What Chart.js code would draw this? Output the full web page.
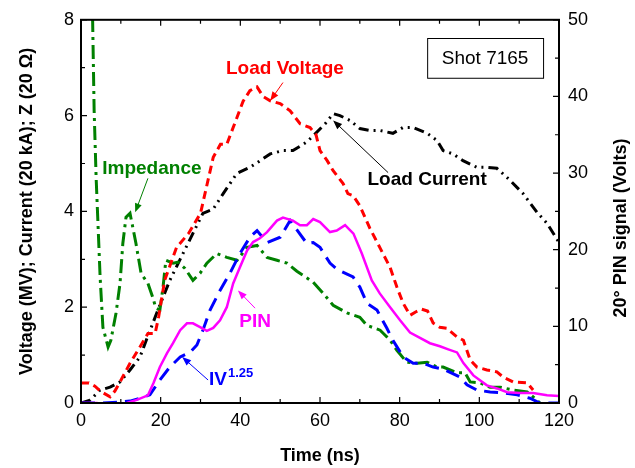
<!DOCTYPE html>
<html>
<head>
<meta charset="utf-8">
<script src="https://cdn.jsdelivr.net/npm/chart.js@4.4.0/dist/chart.umd.min.js"></script>
<style>
  html, body { margin: 0; padding: 0; background: #fff; }
</style>
</head>
<body>
<canvas id="c" width="635" height="468"></canvas>
<script>
// Shot 7165 waveforms
const xTicks = [0, 20, 40, 60, 80, 100, 120];
const yTicks = [0, 2, 4, 6, 8];
const y2Ticks = [0, 10, 20, 30, 40, 50];

const voltT = [0, 2, 3.5, 4.8, 7.3, 8.5, 9.8, 12.3, 14.8, 16.8, 18.6, 19.5, 21, 24, 27, 30, 33.2, 35, 36.6, 38.2, 40.7, 42.4, 44.2, 45.7, 47.5, 50, 52.5, 55, 57.5, 59, 60, 61.8, 63.3, 65.8, 67, 68.3, 70, 72.5, 75, 77.6, 79.3, 80.9, 82.6, 84, 85.5, 87, 88.4, 90.1, 91.8, 94.4, 96, 97.7, 99.4, 101.9, 104.4, 106, 108.5, 112, 113.5];
const voltV = [0.42, 0.42, 0.35, 0.25, 0.13, 0.25, 0.44, 0.83, 1.17, 1.45, 1.45, 1.8, 2.56, 3.25, 3.54, 3.96, 5.13, 5.4, 5.4, 5.75, 6.3, 6.52, 6.6, 6.4, 6.31, 6.25, 6.1, 5.83, 5.75, 5.6, 5.27, 5.06, 4.85, 4.58, 4.37, 4.33, 4.12, 3.65, 3.25, 2.83, 2.42, 2.08, 1.83, 1.9, 1.96, 1.92, 1.67, 1.58, 1.56, 1.38, 1.31, 0.9, 0.75, 0.69, 0.65, 0.54, 0.44, 0.42, 0.27];

const currT = [0, 2.3, 4.8, 7.3, 9.8, 12.3, 14.8, 16.8, 19.3, 20.6, 22.3, 25.6, 28.1, 30.6, 33.2, 35.7, 39.1, 42.4, 45, 47.5, 50.7, 53.2, 56.7, 58.3, 61.3, 63.3, 65, 67.5, 70, 72.6, 75, 78.3, 80.8, 83.4, 86.9, 89.4, 90.9, 93.4, 95.9, 99.4, 101.9, 104.4, 107.7, 111, 114.5, 117, 120];
const currV = [0, 0.06, 0.27, 0.33, 0.44, 0.69, 0.96, 1.4, 1.94, 2.21, 2.56, 3.12, 3.54, 3.96, 4.05, 4.37, 4.79, 4.92, 5.06, 5.2, 5.27, 5.27, 5.45, 5.58, 5.83, 6.04, 6.0, 5.9, 5.73, 5.69, 5.69, 5.63, 5.75, 5.75, 5.63, 5.48, 5.27, 5.2, 5.06, 4.92, 4.92, 4.9, 4.65, 4.37, 3.98, 3.75, 3.35];

const impT = [2.8, 3.3, 3.8, 4.8, 5.5, 6.8, 7.5, 8.8, 9.8, 10.5, 11.3, 12.3, 13, 13.8, 15.1, 16.8, 18, 18.8, 19.8, 20.6, 21.3, 23.1, 24.4, 26.1, 28.1, 29.9, 31.6, 34.1, 36.6, 39.2, 41.7, 44.2, 46.7, 49.2, 51.7, 54.2, 55.7, 58.3, 60.8, 63.3, 66.8, 70, 71.8, 75.1, 77.6, 79.3, 81.8, 84.4, 86.9, 89.4, 90.9, 94.4, 96.4, 97.7, 100.2, 102.7, 105.2, 108.5, 112, 113.5, 115.2];
const impV = [8.6, 6.1, 4.7, 2.63, 1.58, 1.17, 1.31, 1.88, 2.5, 3.33, 3.88, 3.96, 3.67, 3.33, 2.7, 2.5, 2.21, 1.98, 1.94, 2.42, 2.98, 2.92, 2.94, 2.81, 2.56, 2.71, 2.92, 3.12, 3.04, 2.98, 3.25, 3.29, 3.04, 2.98, 2.92, 2.75, 2.67, 2.52, 2.29, 2.04, 1.88, 1.79, 1.62, 1.52, 1.31, 1.1, 0.85, 0.83, 0.85, 0.75, 0.75, 0.63, 0.63, 0.44, 0.42, 0.33, 0.33, 0.27, 0.23, 0.13, 0];

const ivT = [0, 5, 9.8, 12.3, 14.8, 17.3, 19.8, 22.3, 24.9, 27.4, 29.1, 30.6, 32.4, 34.9, 37.4, 39.9, 42.4, 44.2, 46.7, 50, 52.5, 53.7, 56.7, 58.3, 60, 62.5, 64.3, 68.3, 70, 71.8, 74.3, 76.8, 78.3, 80.9, 83.4, 85.9, 88.4, 90.9, 95.2, 96.9, 99.4, 102.7, 106, 109.5, 112.7, 115.2, 120];
const ivV = [0, 0, 0.02, 0.04, 0.1, 0.17, 0.48, 0.75, 0.96, 1.06, 1.21, 1.52, 1.94, 2.35, 2.71, 3.12, 3.46, 3.6, 3.35, 3.46, 3.81, 3.67, 3.33, 3.35, 3.25, 2.92, 2.79, 2.63, 2.42, 2.08, 1.94, 1.56, 1.31, 0.96, 0.83, 0.83, 0.75, 0.71, 0.54, 0.38, 0.27, 0.23, 0.21, 0.17, 0.1, 0, 0];

// PIN signal in volts (right axis)
const pinT = [0, 4, 6, 11.5, 14, 16.8, 18.2, 19.8, 21.6, 23.1, 24.9, 26.6, 28.1, 29.9, 31.6, 33.2, 34.9, 36.6, 38.2, 39.9, 41.7, 43.2, 44.9, 46.7, 49.2, 50.7, 53.2, 55, 56.7, 58.3, 60, 62.5, 64.2, 66.3, 68.4, 70.5, 73, 75, 77.6, 80.1, 82.6, 85.1, 87.6, 90.1, 92.2, 94.4, 96, 98.5, 101.9, 104.4, 107, 110.2, 113.5, 117, 120];
const pinV = [0, 0, -0.2, 0, 0.4, 1.0, 2.6, 4.7, 6.5, 7.8, 9.5, 10.4, 10.4, 9.9, 9.4, 9.8, 10.8, 12.5, 15.6, 17.7, 19.9, 21, 21.5, 22.3, 23.8, 24.2, 23.8, 23.2, 23.2, 24.0, 23.6, 22.3, 22.5, 23.2, 22.1, 19.5, 16, 14.3, 12.5, 10.8, 9.2, 8.5, 7.8, 7.4, 7.0, 6.6, 5.2, 3.6, 2.3, 1.9, 1.4, 1.3, 1.3, 1.0, 0.9];

const pts = (ts, vs) => ts.map((t, i) => ({ x: t, y: vs[i] }));

const FONT = '"Liberation Sans", Arial, sans-serif';

// labels and arrows, positioned in (ns, left-axis) units
const notes = [
  { text: 'Load Voltage', t: 51.2, v: 6.98, color: '#ff0000', from: [50.7, 6.69], to: [47.5, 6.31] },
  { text: 'Impedance', t: 17.8, v: 4.88, color: '#008000', from: [16.8, 4.69], to: [13.6, 3.98] },
  { text: 'Load Current', t: 86.9, v: 4.65, color: '#000000', from: [77.1, 4.81], to: [63.3, 5.9] },
  { text: 'PIN', t: 43.7, v: 1.69, color: '#ff00ff', from: [43.7, 1.98], to: [39.4, 2.35] },
  { text: 'IV', t: 34.4, v: 0.48, color: '#0000ff', sup: '1.25', from: [31.9, 0.48], to: [25.4, 0.96] }
];

function arrow(ctx, x1, y1, x2, y2, color) {
  const a = Math.atan2(y2 - y1, x2 - x1);
  ctx.strokeStyle = color; ctx.fillStyle = color; ctx.lineWidth = 1;
  ctx.beginPath(); ctx.moveTo(x1, y1); ctx.lineTo(x2 - 6 * Math.cos(a), y2 - 6 * Math.sin(a)); ctx.stroke();
  ctx.beginPath();
  ctx.moveTo(x2, y2);
  ctx.lineTo(x2 - 9 * Math.cos(a) + 3.5 * Math.sin(a), y2 - 9 * Math.sin(a) - 3.5 * Math.cos(a));
  ctx.lineTo(x2 - 9 * Math.cos(a) - 3.5 * Math.sin(a), y2 - 9 * Math.sin(a) + 3.5 * Math.cos(a));
  ctx.closePath(); ctx.fill();
}

const framePlugin = {
  id: 'frame',
  afterDatasetsDraw(chart) {
    const { ctx, chartArea: a, scales: { x, y, y2 } } = chart;
    ctx.save();
    ctx.strokeStyle = '#000';
    ctx.lineWidth = 1.2;
    ctx.beginPath();
    for (let t = 0; t <= 120; t += 10) {
      const px = x.getPixelForValue(t), len = t % 20 ? 4 : 6;
      ctx.moveTo(px, a.bottom); ctx.lineTo(px, a.bottom - len);
      ctx.moveTo(px, a.top); ctx.lineTo(px, a.top + len);
    }
    for (let v = 0; v <= 8; v += 1) {
      const py = y.getPixelForValue(v), len = v % 2 ? 4 : 6;
      ctx.moveTo(a.left, py); ctx.lineTo(a.left + len, py);
    }
    for (let v = 0; v <= 50; v += 5) {
      const py = y2.getPixelForValue(v), len = v % 10 ? 4 : 6;
      ctx.moveTo(a.right, py); ctx.lineTo(a.right - len, py);
    }
    ctx.stroke();
    ctx.lineWidth = 2;
    ctx.strokeRect(a.left, a.top, a.right - a.left, a.bottom - a.top);
    ctx.restore();
  },
  afterDraw(chart) {
    const { ctx, chartArea: a, scales: { x, y } } = chart;
    const P = (t, v) => [x.getPixelForValue(t), y.getPixelForValue(v)];
    ctx.save();
    ctx.textBaseline = 'middle';
    notes.forEach(n => {
      const [px, py] = P(n.t, n.v);
      ctx.fillStyle = n.color;
      ctx.font = 'bold 19px ' + FONT;
      if (n.sup) {
        ctx.textAlign = 'left';
        const w = ctx.measureText(n.text).width;
        ctx.fillText(n.text, px - w / 2, py);
        ctx.font = 'bold 13px ' + FONT;
        ctx.fillText(n.sup, px + w / 2 + 1, py - 7);
      } else {
        ctx.textAlign = 'center';
        ctx.fillText(n.text, px, py);
      }
      const f = P(...n.from), t = P(...n.to);
      arrow(ctx, f[0], f[1], t[0], t[1], n.color);
    });

    // shot label box
    const [bx1, by1] = P(86.9, 7.62), [bx2, by2] = P(116, 6.79);
    ctx.strokeStyle = '#000'; ctx.lineWidth = 1;
    ctx.strokeRect(bx1 + 0.5, by1 + 0.5, bx2 - bx1, by2 - by1);
    ctx.fillStyle = '#000';
    ctx.font = '19px ' + FONT;
    ctx.textAlign = 'center';
    ctx.fillText('Shot 7165', (bx1 + bx2) / 2, (by1 + by2) / 2 + 1);

    // right axis title reads bottom-to-top
    ctx.save();
    ctx.translate(621, 228);
    ctx.rotate(-Math.PI / 2);
    ctx.font = 'bold 18px ' + FONT;
    ctx.textAlign = 'center';
    ctx.fillText('20° PIN signal (Volts)', 0, 0);
    ctx.restore();
    ctx.restore();
  }
};

const tickFont = { family: FONT, size: 18 };

new Chart(document.getElementById('c'), {
  type: 'line',
  data: {
    datasets: [
      { data: pts(pinT, pinV), yAxisID: 'y2', borderColor: '#ff00ff', borderWidth: 2.5 },
      { data: pts(voltT, voltV), borderColor: '#ff0000', borderWidth: 3, borderDash: [8, 5] },
      { data: pts(ivT, ivV), borderColor: '#0000ff', borderWidth: 3, borderDash: [14, 8] },
      { data: pts(impT, impV), borderColor: '#008000', borderWidth: 3, borderDash: [14, 5, 3, 5] },
      { data: pts(currT, currV), borderColor: '#000000', borderWidth: 3, borderDash: [10, 5, 2, 5, 2, 5] }
    ]
  },
  options: {
    responsive: false,
    animation: false,
    devicePixelRatio: 1,
    layout: { padding: { top: 19, left: 0, right: 0, bottom: 0 } },
    elements: { point: { radius: 0 }, line: { tension: 0, fill: false } },
    plugins: { legend: { display: false }, tooltip: { enabled: false } },
    scales: {
      x: {
        type: 'linear', min: 0, max: 120,
        afterBuildTicks: s => { s.ticks = xTicks.map(v => ({ value: v })); },
        afterFit: s => { s.height = 65; },
        grid: { display: false, drawTicks: false },
        border: { display: false },
        ticks: { font: tickFont, color: '#000', padding: 7, maxRotation: 0, autoSkip: false },
        title: { display: true, text: 'Time (ns)', color: '#000', font: { family: FONT, size: 18, weight: 'bold' }, padding: { top: 0, bottom: 1 } }
      },
      y: {
        position: 'left', min: 0, max: 8,
        afterBuildTicks: s => { s.ticks = yTicks.map(v => ({ value: v })); },
        afterFit: s => { s.width = 81; },
        grid: { display: false, drawTicks: false },
        border: { display: false },
        ticks: { font: tickFont, color: '#000', padding: 7 },
        title: { display: true, text: 'Voltage (MV); Current (20 kA); Z (20 Ω)', color: '#000', font: { family: FONT, size: 18, weight: 'bold' }, padding: { top: 16, bottom: 0 } }
      },
      y2: {
        position: 'right', min: 0, max: 50,
        afterBuildTicks: s => { s.ticks = y2Ticks.map(v => ({ value: v })); },
        afterFit: s => { s.width = 76; },
        grid: { display: false, drawTicks: false },
        border: { display: false },
        ticks: { font: tickFont, color: '#000', padding: 9 }
      }
    }
  },
  plugins: [framePlugin]
});
</script>
</body>
</html>
